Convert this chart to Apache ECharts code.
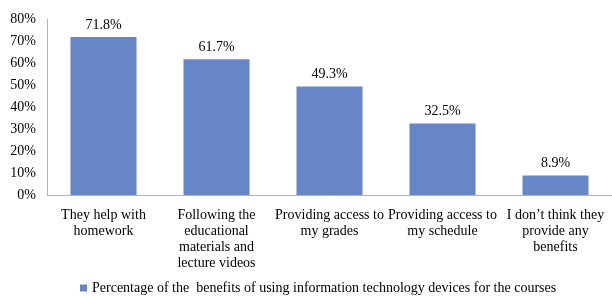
<!DOCTYPE html>
<html>
<head>
<meta charset="utf-8">
<script src="https://cdn.jsdelivr.net/npm/echarts@6/dist/echarts.min.js"></script>
<style>
  html, body { margin: 0; padding: 0; background: #fff; }
  #chart { width: 612px; height: 297px; }
</style>
</head>
<body>
<div id="chart"></div>
<script>
const categories = [
  "They help with\nhomework",
  "Following the\neducational\nmaterials and\nlecture videos",
  "Providing access to\nmy grades",
  "Providing access to\nmy schedule",
  "I don\u2019t think they\nprovide any\nbenefits"
];
const values = [71.8, 61.7, 49.3, 32.5, 8.9];
const seriesName = "Percentage of the  benefits of using information technology devices for the courses";

const font = "Liberation Serif, Times New Roman, serif";
const chart = echarts.init(document.getElementById("chart"));

chart.setOption({
  animation: false,
  textStyle: { fontFamily: font },
  grid: { left: 47, width: 566, top: 19, bottom: 102, containLabel: false },
  legend: {
    top: 276,
    left: 75,
    itemWidth: 7,
    itemHeight: 7,
    itemGap: 4,
    icon: "rect",
    textStyle: { fontFamily: font, fontSize: 14, color: "#000" },
    data: [seriesName]
  },
  xAxis: {
    type: "category",
    data: categories,
    axisLine: { show: true, lineStyle: { color: "#b3b3b3", width: 1 } },
    axisTick: { show: false },
    axisLabel: {
      interval: 0,
      margin: 12,
      color: "#000",
      fontFamily: font,
      fontSize: 14,
      lineHeight: 16,
      align: "center"
    }
  },
  yAxis: {
    type: "value",
    min: 0,
    max: 80,
    interval: 10,
    axisLine: { show: true, lineStyle: { color: "#b3b3b3", width: 1 } },
    axisTick: { show: false },
    splitLine: { show: false },
    axisLabel: {
      margin: 11,
      color: "#000",
      fontFamily: font,
      fontSize: 14,
      formatter: "{value}%"
    }
  },
  series: [{
    name: seriesName,
    type: "bar",
    data: values,
    barWidth: 66,
    itemStyle: { color: "#6786c8" },
    label: {
      show: true,
      position: "top",
      distance: 5,
      color: "#000",
      fontFamily: font,
      fontSize: 14,
      formatter: p => p.value.toFixed(1) + "%"
    }
  }]
});
</script>
</body>
</html>
